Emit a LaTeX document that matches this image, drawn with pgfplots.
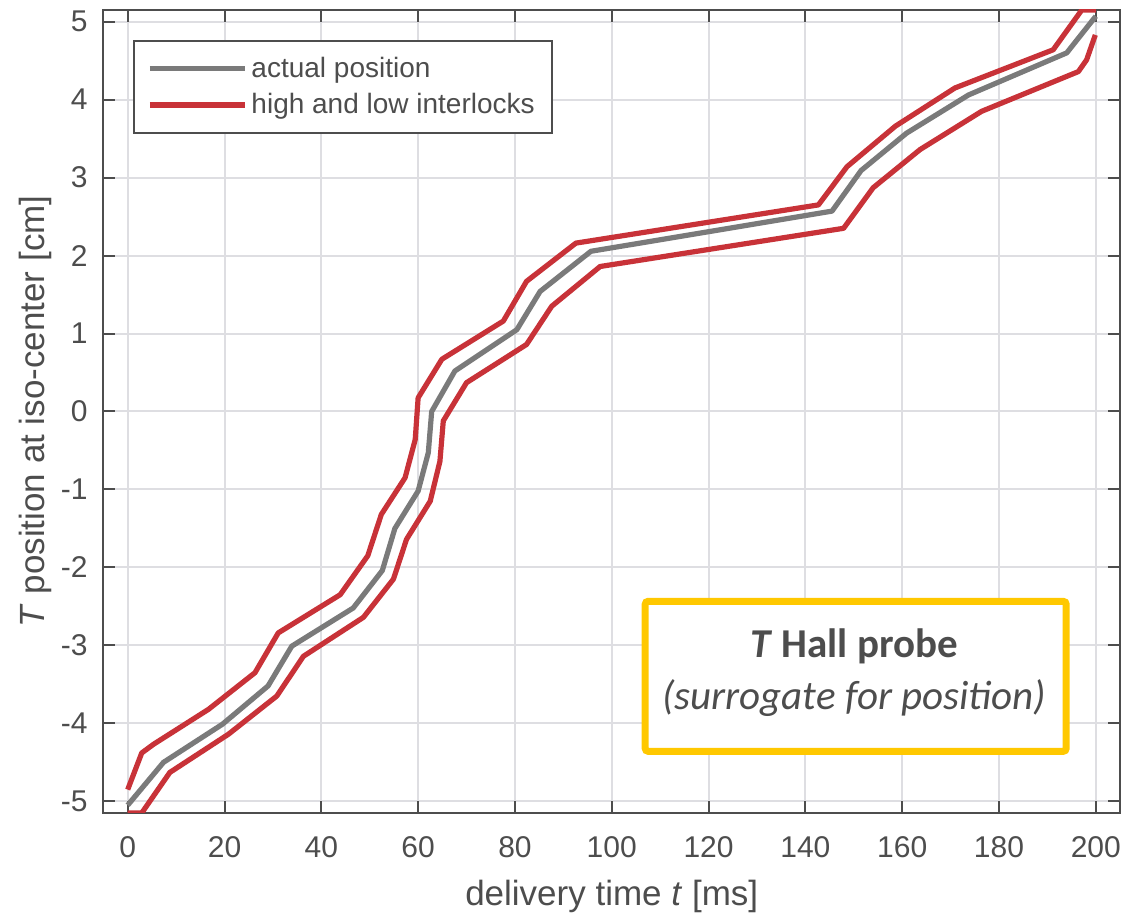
\documentclass[border=0pt]{standalone}
\usepackage{fontspec}
\setmainfont{Liberation Sans}
\newfontfamily\calibri{Carlito}
\usepackage{pgfplots}
\pgfplotsset{compat=1.18}

\definecolor{axisgray}{RGB}{77,77,77}
\definecolor{gridgray}{RGB}{222,222,226}
\definecolor{posgray}{RGB}{122,122,122}
\definecolor{lockred}{RGB}{200,50,56}
\definecolor{boxyellow}{RGB}{255,200,0}

\begin{document}
\begin{tikzpicture}
\begin{axis}[
  at={(0,0)}, anchor=south west,
  scale only axis, width=508.25pt, height=401.5pt,
  xmin=-5, xmax=205, ymin=-5.15, ymax=5.15,
  xtick={0,20,40,60,80,100,120,140,160,180,200},
  xticklabels={0,20,40,60,80,100,120,140,160,180,200},
  ytick={-5,-4,-3,-2,-1,0,1,2,3,4,5},
  yticklabels={-5,-4,-3,-2,-1,0,1,2,3,4,5},
  tick align=inside, major tick length=6pt,
  tick style={axisgray, line width=1pt},
  axis line style={axisgray, line width=1pt},
  grid=major, major grid style={gridgray, line width=1pt},
  ticklabel style={font=\fontsize{15}{18}\selectfont, text=axisgray},
  xticklabel style={anchor=base, yshift=-22.5pt},
  yticklabel style={anchor=east, inner sep=0pt, xshift=-7.75pt},
  label style={font=\fontsize{17.5}{21}\selectfont, text=axisgray},
  xlabel={delivery time \textit{t} [ms]},
  ylabel={\textit{T} position at iso-center [cm]},
  xlabel style={at={(axis description cs:0.5,-0.1146)}, anchor=base},
  ylabel style={at={(axis description cs:-0.0576,0.5)}, anchor=base},
  legend style={
    at={(axis description cs:0.0293,0.9626)}, anchor=north west,
    draw=axisgray, line width=1pt, fill=white,
    font=\fontsize{14}{17}\selectfont, text=axisgray,
    inner xsep=6.5pt, inner ysep=6pt, row sep=2.5pt,
  },
  legend cell align=left,
  legend image code/.code={\draw[#1] (0pt,0pt) -- (47.5pt,0pt);},
  every axis plot/.append style={line width=2.6pt, line join=round},
]
% measured beam position
\addplot[posgray] coordinates {
  (0,-5.05) (7.4,-4.50) (19.6,-4.01) (29.0,-3.52) (33.9,-3.01)
  (46.6,-2.52) (52.6,-2.04) (55.2,-1.50) (60.0,-1.02) (62.1,-0.53)
  (62.8,0.00) (67.6,0.52) (80.4,1.05) (85.2,1.54) (95.7,2.055)
  (145.5,2.57) (151.5,3.09) (160.9,3.57) (173.7,4.06) (194.0,4.60)
  (200,5.07)
};
\addlegendentry{actual position}
% high interlock
\addplot[lockred] coordinates {
  (0,-4.85) (2.9,-4.38) (5.3,-4.27) (16.7,-3.82) (26.3,-3.35)
  (31.1,-2.84) (43.9,-2.35) (49.6,-1.85) (52.4,-1.32) (57.3,-0.85)
  (59.4,-0.36) (60.0,0.175) (64.9,0.67) (77.6,1.16) (82.4,1.67)
  (92.6,2.16) (142.7,2.65) (148.6,3.14) (158.6,3.66) (170.9,4.15)
  (191.2,4.64) (197.1,5.15) (200,5.15)
};
\addlegendentry{high and low interlocks}
% low interlock
\addplot[lockred, forget plot] coordinates {
  (0,-5.15) (2.9,-5.15) (8.7,-4.63) (20.8,-4.14) (30.8,-3.65)
  (36.3,-3.14) (48.7,-2.64) (54.9,-2.15) (57.6,-1.64) (62.5,-1.15)
  (64.5,-0.64) (65.2,-0.12) (70.0,0.37) (82.4,0.86) (87.6,1.35)
  (97.6,1.86) (147.9,2.35) (154.0,2.87) (163.7,3.36) (176.4,3.85)
  (196.4,4.36) (198.1,4.51) (199.9,4.83)
};
% annotation box
\node[draw=boxyellow, fill=white, line width=3.5pt, rounded corners=1.5pt,
      minimum width=210.5pt, minimum height=75pt, inner sep=0pt]
  at (axis cs:150.4,-3.397) {};
\node[anchor=base, inner sep=0pt, text=axisgray,
      font=\calibri\fontsize{20.5}{24}\selectfont]
  at (axis cs:150.1,-3.154) {\textbf{\textit{T} Hall probe}};
\node[anchor=base, inner sep=0pt, text=axisgray,
      font=\calibri\fontsize{20.5}{24}\selectfont]
  at (axis cs:150.1,-3.82) {\textit{(surrogate for position)}};
\end{axis}
\pgfresetboundingbox
\path (-51.75pt,-51pt) rectangle (511.25pt,406.5pt);
\end{tikzpicture}
\end{document}
